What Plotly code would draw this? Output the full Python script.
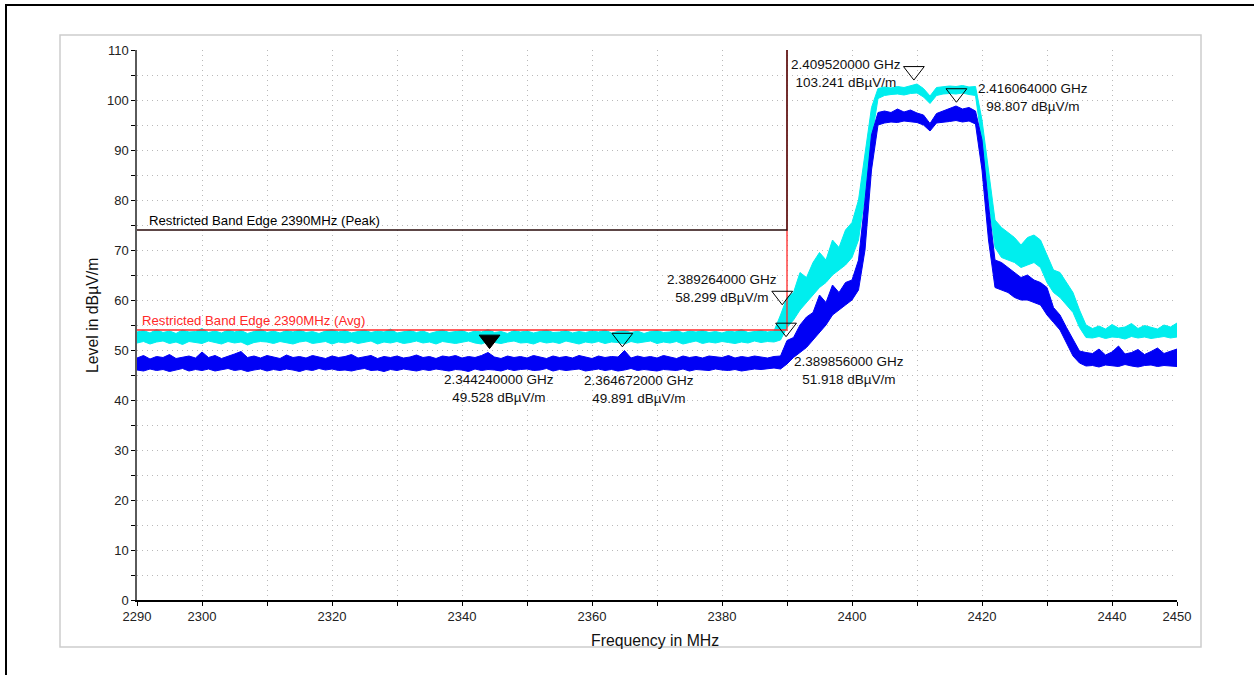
import plotly.graph_objects as go

# ---------------- data ----------------
freq_mhz = list(range(2290, 2451))  # 1 MHz sweep grid (categories)

peak_hi = [
    53.6, 53.9, 53.4, 54.1, 53.5, 53.8, 53.3, 54.0, 53.6, 53.7,
    54.3, 53.5, 53.8, 53.4, 54.0, 53.6, 53.9, 53.3, 53.7, 54.2,
    53.5, 53.8, 53.4, 53.9, 53.6, 54.0, 53.5, 53.7, 53.3, 53.8,
    54.1, 53.6, 53.9, 53.4, 53.7, 54.0, 53.5, 53.8, 53.6, 54.2,
    53.4, 53.7, 53.9, 53.5, 53.8, 53.3, 53.6, 54.0, 53.5, 53.7,
    53.9, 53.4, 53.8, 53.6, 54.1, 53.5, 53.7, 53.3, 53.9, 53.6,
    53.8, 53.4, 53.7, 54.0, 53.5, 53.6, 53.9, 53.4, 53.7, 53.5,
    53.8, 53.6, 54.0, 53.4, 53.7, 53.9, 53.5, 53.8, 53.3, 53.7,
    53.9, 53.5, 53.6, 54.0, 53.4, 53.8, 53.6, 53.9, 53.5, 53.7,
    53.4, 53.8, 53.6, 54.1, 53.5, 53.7, 53.9, 53.6, 53.8,
    57.0, 60.5, 61.5, 65.5, 64.5, 67.5, 69.5, 68.0, 72.0, 70.5,
    74.0, 75.5, 80.0, 89.0, 98.5, 102.3, 102.6, 102.4, 102.7, 102.5,
    102.8, 103.2, 102.3, 100.8, 102.5, 102.6, 102.8, 102.7, 102.9, 102.6,
    102.7, 96.0, 86.0, 76.0, 74.5, 73.5, 72.5, 71.0, 72.5, 73.0,
    72.0, 69.0, 66.0, 65.5, 63.5, 61.5, 58.0, 55.0,
    54.3, 54.8, 54.2, 55.1, 54.4, 54.6, 55.3, 54.3, 54.9, 54.5, 54.2, 55.0, 54.6, 55.4,
]
peak_lo = [
    51.4, 51.7, 51.2, 51.6, 51.8, 51.3, 51.6, 51.1, 51.7, 51.5,
    51.3, 51.8, 51.5, 51.2, 51.7, 51.4, 51.6, 51.0, 51.5, 51.7,
    51.6, 51.3, 51.7, 51.4, 51.2, 51.6, 51.8, 51.3, 51.5, 51.7,
    51.2, 51.6, 51.4, 51.7, 51.3, 51.5, 51.8, 51.2, 51.6, 51.4,
    51.7, 51.3, 51.5, 51.8, 51.4, 51.6, 51.2, 51.7, 51.5, 51.3,
    51.6, 51.8, 51.4, 51.2, 51.7, 51.5, 51.3, 51.6, 51.8, 51.4,
    51.5, 51.2, 51.7, 51.4, 51.6, 51.3, 51.8, 51.5, 51.2, 51.6,
    51.4, 51.7, 51.3, 51.6, 51.5, 51.2, 51.7, 51.4, 51.6, 51.8,
    51.3, 51.6, 51.4, 51.7, 51.2, 51.5, 51.8, 51.3, 51.6, 51.4,
    51.7, 51.5, 51.3, 51.6, 51.4, 51.8, 51.5, 51.7, 51.6,
    52.0, 54.5, 56.0, 58.0, 59.5, 61.0, 62.5, 63.5, 65.0, 66.0,
    67.0, 68.5, 72.0, 81.0, 92.0, 100.3, 100.9, 101.1, 101.2, 101.0,
    101.3, 101.4, 100.6, 99.3, 100.9, 101.2, 101.3, 101.2, 101.4, 101.1,
    100.9, 91.5, 80.0, 70.5, 68.5, 68.0, 67.5, 66.5, 67.0, 67.5,
    66.5, 63.5, 61.5, 60.5, 59.0, 57.5, 54.5, 52.5,
    52.4, 52.7, 52.3, 52.6, 52.5, 52.2, 52.7, 52.4, 52.6, 52.3, 52.5, 52.7, 52.4, 52.6,
]
avg_hi = [
    48.4, 48.9, 48.2, 48.7, 48.5, 49.1, 48.3, 48.6, 48.8, 48.4,
    49.6, 48.5, 48.9, 48.3, 48.7, 49.2, 49.7, 48.5, 48.8, 48.4,
    48.9, 48.6, 48.3, 49.0, 48.5, 48.7, 48.4, 48.9, 48.6, 48.3,
    48.8, 48.5, 48.7, 49.1, 48.4, 48.6, 48.9, 48.3, 48.7, 48.5,
    48.8, 48.4, 48.6, 49.0, 48.5, 48.7, 48.3, 48.8, 48.6, 48.9,
    48.4, 48.7, 48.5, 48.9, 49.5, 48.6, 48.3, 48.8, 48.5, 48.7,
    48.4, 48.9, 48.6, 48.3, 48.8, 48.5, 48.7, 48.4, 48.9, 48.6,
    48.3, 48.8, 48.5, 48.7, 48.6, 49.9, 48.4, 48.8, 48.5, 48.7,
    48.4, 48.9, 48.6, 48.3, 48.8, 48.5, 48.7, 48.4, 48.8, 48.6,
    48.5, 48.9, 48.4, 48.7, 48.5, 48.8, 48.6, 48.4, 48.7,
    48.8, 51.9, 52.5, 55.0, 56.6, 57.5, 61.0, 59.5, 63.0, 61.5,
    63.5, 64.0, 68.0, 80.0, 93.0, 97.5, 97.8, 97.5, 98.2, 97.6,
    98.0, 97.4, 97.0, 95.3, 97.3, 97.8, 98.3, 98.8, 98.2, 98.5,
    97.8, 92.0, 79.0, 68.0, 67.5, 66.5, 65.5, 64.5, 65.0, 64.0,
    63.5, 62.5, 58.5, 57.0, 54.5, 52.0, 49.8, 49.5,
    49.3, 50.2, 49.0, 49.6, 50.8, 49.2, 49.5, 50.1, 49.1, 49.7, 50.4, 49.3, 49.8, 50.2,
]
avg_lo = [
    46.0, 45.8, 46.2, 45.9, 46.1, 45.7, 46.0, 46.3, 45.8, 46.1,
    45.9, 46.2, 45.8, 46.0, 46.3, 45.9, 46.1, 45.7, 46.0, 46.2,
    45.8, 46.1, 45.9, 46.2, 46.0, 45.7, 46.1, 45.9, 46.3, 46.0,
    46.2, 45.9, 46.0, 45.8, 46.1, 46.3, 45.9, 46.0, 45.7, 46.1,
    45.9, 46.2, 46.0, 45.8, 46.1, 45.9, 46.2, 46.0, 45.8, 46.1,
    46.0, 45.7, 46.2, 45.9, 46.1, 46.0, 45.8, 46.2, 45.9, 46.1,
    46.2, 45.9, 46.0, 46.3, 45.8, 46.1, 45.9, 46.0, 46.2, 45.8,
    46.0, 46.2, 45.9, 46.1, 45.8, 46.0, 46.3, 45.9, 46.1, 46.0,
    45.8, 46.1, 46.0, 45.9, 46.2, 45.8, 46.1, 46.0, 45.9, 46.2,
    46.0, 45.9, 46.1, 45.8, 46.0, 46.2, 46.1, 46.3, 46.4,
    46.2, 47.2, 48.5, 49.5, 50.5, 52.0, 53.5, 55.0, 57.0, 58.0,
    59.0, 60.0, 62.0, 70.0, 86.0, 95.0, 95.4, 95.6, 95.5, 95.8,
    95.6, 95.5, 95.0, 93.8, 95.4, 95.6, 95.7, 95.9, 95.6, 95.8,
    95.2, 86.0, 72.0, 62.5, 62.0, 61.5, 60.5, 60.0, 60.0, 59.5,
    59.0, 57.0, 55.5, 54.0, 51.5, 48.8, 47.4, 46.8,
    46.9, 46.6, 47.0, 46.8, 46.7, 47.1, 46.8, 46.6, 46.9, 47.0, 46.7, 46.9, 46.8, 46.7,
]

# limit lines
limit_freq = [2290, 2390, 2390]
peak_limit = [74, 74, 110]
avg_limit = [54, 54, 110]
peak_limit_label = "Restricted Band Edge 2390MHz (Peak)"
avg_limit_label = "Restricted Band Edge 2390MHz (Avg)"

# markers
marker_freq_ghz = [2.344240, 2.364672, 2.389264, 2.389856, 2.409520, 2.416064]
marker_level = [49.528, 49.891, 58.299, 51.918, 103.241, 98.807]
marker_filled = [True, False, False, False, False, False]

x_ticks = list(range(2290, 2451, 10))
x_labels = [2290, 2300, 2320, 2340, 2360, 2380, 2400, 2420, 2440, 2450]
y_ticks = list(range(0, 111, 5))
y_labels = list(range(0, 111, 10))

# ---------------- layout geometry ----------------
W, H = 1254, 675
L, R, T, B = 137, 77, 50, 75
PW, PH = W - L - R, H - T - B
X0, X1, Y0, Y1 = 2290, 2450, 0, 110
px_per_db = PH / (Y1 - Y0)

def px_x(px):
    return (px - L) / PW

def px_y(py):
    return (H - B - py) / PH

FONT = "Liberation Sans, Arial, sans-serif"
CYAN = "rgb(0,238,238)"
BLUE = "rgb(0,0,245)"
RED = "rgb(255,40,40)"

fig = go.Figure()

def band(lo, hi, color):
    fig.add_trace(go.Scatter(
        x=freq_mhz + freq_mhz[::-1], y=hi + lo[::-1],
        fill="toself", fillcolor=color, mode="lines",
        line=dict(color=color, width=1), hoverinfo="skip", showlegend=False))

band(peak_lo, peak_hi, CYAN)
band(avg_lo, avg_hi, BLUE)

fig.add_trace(go.Scatter(x=limit_freq, y=avg_limit, mode="lines",
                         line=dict(color=RED, width=1.3), showlegend=False))
fig.add_trace(go.Scatter(x=limit_freq, y=peak_limit, mode="lines",
                         line=dict(color="rgb(40,10,10)", width=1.3), showlegend=False))

# triangle markers (tip at data point)
MSIZE = 18
tip_db = (MSIZE / 2) * 2 ** 0.5 / px_per_db
mf = [f * 1000 for f in marker_freq_ghz]
for f, lv, filled in zip(mf, marker_level, marker_filled):
    fig.add_trace(go.Scatter(
        x=[f], y=[lv + tip_db], mode="markers", showlegend=False,
        marker=dict(symbol="triangle-down" if filled else "triangle-down-open",
                    size=MSIZE, color="black",
                    line=dict(color="black", width=1))))

# marker labels (offset in px from data point)
label_offsets = [(9, 36), (17, 39), (-60, -20), (63, 30), (-68, -10), (77, -8.5)]
for f, fg, lv, (dx, dy) in zip(mf, marker_freq_ghz, marker_level, label_offsets):
    fig.add_annotation(
        x=f, y=lv, xref="x", yref="y", showarrow=False,
        text=f"{fg:.9f} GHz<br>{lv:.3f} dBµV/m",
        xanchor="center", yanchor="middle", xshift=dx, yshift=-dy,
        font=dict(family=FONT, size=13.5, color="#111"))

# limit labels
fig.add_annotation(x=limit_freq[0], y=peak_limit[0], xref="x", yref="y",
                   text=peak_limit_label, showarrow=False, xanchor="left",
                   yanchor="bottom", xshift=10, yshift=0,
                   font=dict(family=FONT, size=13.2, color="black"))
fig.add_annotation(x=limit_freq[0], y=avg_limit[0], xref="x", yref="y",
                   text=avg_limit_label, showarrow=False, xanchor="left",
                   yanchor="bottom", xshift=3, yshift=0,
                   font=dict(family=FONT, size=13.2, color=RED))

# axis titles
fig.add_annotation(x=px_x(655), y=px_y(640), xref="paper", yref="paper",
                   xanchor="center", yanchor="middle",
                   text="Frequency in MHz", showarrow=False,
                   font=dict(family=FONT, size=15.8, color="#111"))
fig.add_annotation(x=px_x(92), y=px_y(316), xref="paper", yref="paper",
                   xanchor="center", yanchor="middle",
                   text="Level in dBµV/m", showarrow=False, textangle=-90,
                   font=dict(family=FONT, size=15.8, color="#111"))

# gray panel and outer frame
fig.add_shape(type="rect", xref="paper", yref="paper",
              x0=px_x(60), x1=px_x(1201), y0=px_y(647), y1=px_y(35),
              line=dict(color="rgb(205,205,205)", width=1.5), layer="below")
fig.add_shape(type="rect", xref="paper", yref="paper",
              x0=px_x(6), x1=px_x(1400), y0=px_y(800), y1=px_y(5),
              line=dict(color="black", width=2), layer="below")

axis_common = dict(showgrid=True, gridcolor="rgb(185,185,185)", griddash="1px,4px",
                   gridwidth=1, zeroline=False, ticks="outside", ticklen=4,
                   tickwidth=1, tickcolor="black", showline=True,
                   tickfont=dict(family=FONT, size=13, color="#222"))

fig.update_xaxes(range=[X0, X1], tickmode="array", tickvals=x_ticks,
                 ticktext=[str(v) if v in x_labels else "" for v in x_ticks],
                 linecolor="black", linewidth=1.5, **axis_common)
fig.update_yaxes(range=[Y0, Y1], tickmode="array", tickvals=y_ticks,
                 ticktext=[str(v) if v in y_labels else "" for v in y_ticks],
                 linecolor="rgb(90,90,90)", linewidth=1.5, **axis_common)

fig.update_layout(width=W, height=H, margin=dict(l=L, r=R, t=T, b=B),
                  paper_bgcolor="white", plot_bgcolor="white",
                  showlegend=False)

fig.write_html("out.html")
